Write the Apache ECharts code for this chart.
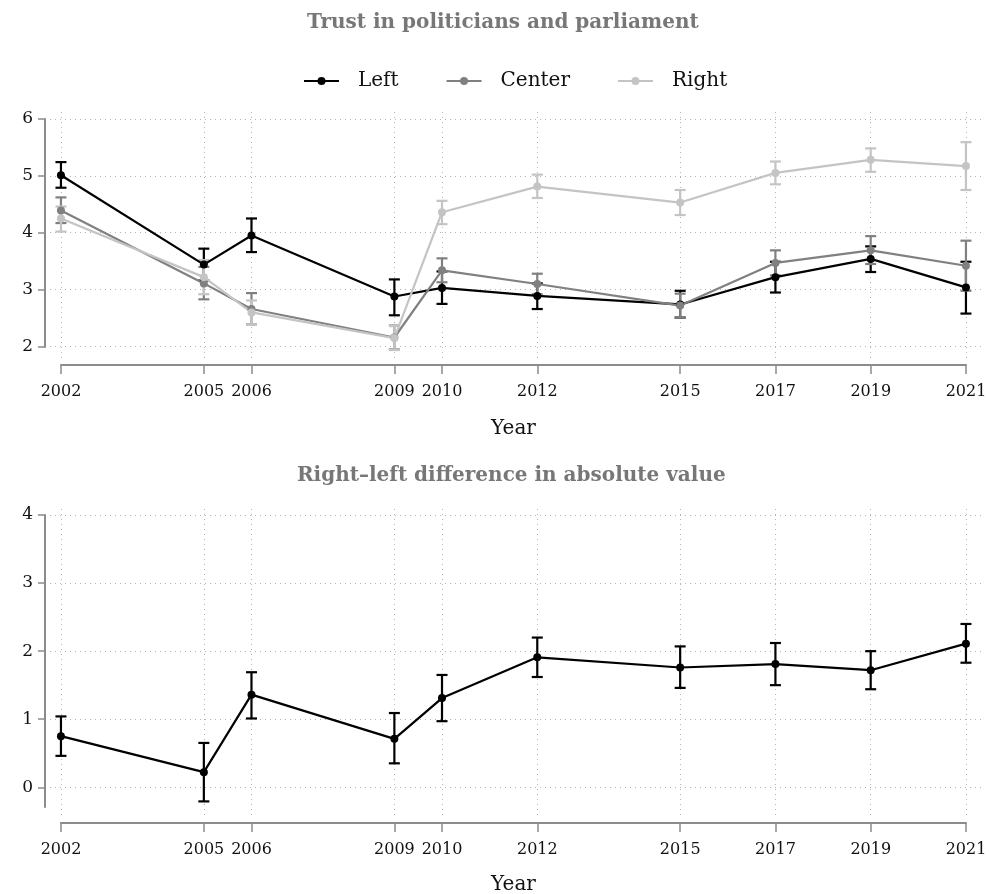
<!DOCTYPE html>
<html>
<head>
<meta charset="utf-8">
<script src="https://cdn.jsdelivr.net/npm/echarts@6/dist/echarts.min.js"></script>
<style>html,body{margin:0;padding:0;background:#fff}#c{width:989px;height:894px}</style>
</head>
<body>
<div id="c"></div>
<script>
const years = [2002, 2005, 2006, 2009, 2010, 2012, 2015, 2017, 2019, 2021];
const yTicksTop = [2, 3, 4, 5, 6];
const yTicksBottom = [0, 1, 2, 3, 4];
const seriesNames = ['Left', 'Center', 'Right'];

const leftMean = [5.01, 3.44, 3.95, 2.88, 3.03, 2.89, 2.74, 3.22, 3.54, 3.04];
const leftLo   = [4.79, 3.16, 3.66, 2.55, 2.75, 2.66, 2.51, 2.95, 3.31, 2.58];
const leftHi   = [5.24, 3.72, 4.25, 3.18, 3.32, 3.11, 2.98, 3.49, 3.76, 3.49];

const centerMean = [4.39, 3.11, 2.66, 2.16, 3.34, 3.10, 2.72, 3.47, 3.69, 3.42];
const centerLo   = [4.17, 2.83, 2.39, 1.95, 3.13, 2.92, 2.51, 3.25, 3.45, 2.98];
const centerHi   = [4.62, 3.40, 2.94, 2.37, 3.55, 3.28, 2.93, 3.69, 3.94, 3.86];

const rightMean = [4.25, 3.22, 2.60, 2.15, 4.36, 4.81, 4.53, 5.05, 5.28, 5.17];
const rightLo   = [4.02, 2.92, 2.39, 1.94, 4.15, 4.61, 4.31, 4.85, 5.07, 4.75];
const rightHi   = [4.46, 3.52, 2.81, 2.36, 4.56, 5.02, 4.75, 5.25, 5.48, 5.59];

const diffMean = [0.75, 0.22, 1.36, 0.71, 1.31, 1.91, 1.76, 1.81, 1.72, 2.11];
const diffLo   = [0.46, -0.21, 1.01, 0.35, 0.97, 1.62, 1.46, 1.50, 1.44, 1.83];
const diffHi   = [1.04, 0.65, 1.69, 1.09, 1.65, 2.20, 2.07, 2.12, 2.00, 2.40];

const FONT = 'DejaVu Serif';
const AXIS_COLOR = '#8c8c8c';
const GRID_COLOR = '#b4b4b4';
const colors = {Left: '#000000', Center: '#808080', Right: '#c4c4c4'};

function pts(ys) { return years.map((x, i) => [x, ys[i]]); }
function errs(lo, hi) { return years.map((x, i) => [x, lo[i], hi[i]]); }

function errRender(color) {
  return function (params, api) {
    const x = api.value(0);
    const a = api.coord([x, api.value(1)]);
    const b = api.coord([x, api.value(2)]);
    const w = 5.5;
    const st = {stroke: color, lineWidth: 2.2};
    return {type: 'group', children: [
      {type: 'line', shape: {x1: a[0], y1: a[1], x2: b[0], y2: b[1]}, style: st},
      {type: 'line', shape: {x1: a[0] - w, y1: a[1], x2: a[0] + w, y2: a[1]}, style: st},
      {type: 'line', shape: {x1: b[0] - w, y1: b[1], x2: b[0] + w, y2: b[1]}, style: st}
    ]};
  };
}

function lineSeries(name, data, xi, yi) {
  return {
    name: name, type: 'line', xAxisIndex: xi, yAxisIndex: yi, data: data,
    symbol: 'circle', symbolSize: 8, showSymbol: true,
    itemStyle: {color: colors[name] || '#000'},
    lineStyle: {color: colors[name] || '#000', width: 2.2},
    z: 3
  };
}
function errSeries(name, data, xi, yi, color) {
  return {
    name: name, type: 'custom', xAxisIndex: xi, yAxisIndex: yi, data: data,
    renderItem: errRender(color), encode: {x: 0, y: [1, 2]}, z: 3
  };
}
function gridSeries(xi, yi, yTicks) {
  return {
    type: 'line', xAxisIndex: xi, yAxisIndex: yi, data: [], z: 1, silent: true,
    markLine: {
      z: 1, silent: true, symbol: 'none', animation: false,
      label: {show: false},
      lineStyle: {type: [1, 4], color: GRID_COLOR, width: 1},
      data: yTicks.map(v => ({yAxis: v})).concat(years.map(v => ({xAxis: v})))
    }
  };
}

const hiddenX = (gi) => ({gridIndex: gi, type: 'value', show: false, min: 0, max: 1});
const hiddenY = (gi) => ({gridIndex: gi, type: 'value', show: false, min: 0, max: 1});
const plotX = (gi) => ({gridIndex: gi, type: 'value', min: 2001.77, max: 2021.4, show: false, splitLine: {show: false}});
const plotY = (gi, mn, mx) => ({gridIndex: gi, type: 'value', min: mn, max: mx, show: false, splitLine: {show: false}});

function visX(gi, gap) {
  return {
    gridIndex: gi, type: 'value', min: 2002, max: 2021, position: 'bottom',
    name: 'Year', nameLocation: 'middle', nameGap: gap,
    nameTextStyle: {fontFamily: FONT, fontSize: 20, color: '#111'},
    axisLine: {show: true, lineStyle: {color: AXIS_COLOR, width: 2}},
    axisTick: {show: true, length: 9, customValues: years, lineStyle: {color: AXIS_COLOR, width: 1.5}},
    axisLabel: {show: true, customValues: years, margin: 19, fontFamily: FONT, fontSize: 16, color: '#111',
                hideOverlap: false, formatter: (v) => String(Math.round(v))},
    splitLine: {show: false}
  };
}
function visY(gi, mn, mx, ticks) {
  return {
    gridIndex: gi, type: 'value', min: mn, max: mx, position: 'left',
    axisLine: {show: true, lineStyle: {color: AXIS_COLOR, width: 2}},
    axisTick: {show: true, length: 7, customValues: ticks, lineStyle: {color: AXIS_COLOR, width: 1.5}},
    axisLabel: {show: true, customValues: ticks, margin: 12, fontFamily: FONT, fontSize: 17, color: '#111'},
    splitLine: {show: false}
  };
}

const chart = echarts.init(document.getElementById('c'), null, {renderer: 'canvas'});
chart.setOption({
  animation: false,
  backgroundColor: '#ffffff',
  title: [
    {text: 'Trust in politicians and parliament', left: 302, top: 8,
     textStyle: {fontFamily: FONT, fontSize: 20, fontWeight: 'bold', color: '#777777'}},
    {text: 'Right\u2013left difference in absolute value', left: 292, top: 461,
     textStyle: {fontFamily: FONT, fontSize: 20, fontWeight: 'bold', color: '#777777'}}
  ],
  legend: {
    data: seriesNames, top: 66, left: 298, itemWidth: 35, itemHeight: 10, itemGap: 47,
    textStyle: {fontFamily: FONT, fontSize: 20, color: '#111', padding: [0, 0, 0, 14]}
  },
  grid: [
    {left: 50, top: 108, width: 935, height: 250, outerBoundsMode: 'none'},
    {left: 45, top: 119, width: 20, height: 228, outerBoundsMode: 'none'},
    {left: 61, top: 300, width: 905, height: 65, outerBoundsMode: 'none'},
    {left: 50, top: 505, width: 935, height: 310, outerBoundsMode: 'none'},
    {left: 45, top: 515, width: 20, height: 292, outerBoundsMode: 'none'},
    {left: 61, top: 760, width: 905, height: 63, outerBoundsMode: 'none'}
  ],
  xAxis: [plotX(0), hiddenX(1), visX(2, 54), plotX(3), hiddenX(4), visX(5, 52)],
  yAxis: [plotY(0, 1.80, 6.19), visY(1, 2, 6, yTicksTop), hiddenY(2),
          plotY(3, -0.41, 4.15), visY(4, -0.29, 4, yTicksBottom), hiddenY(5)],
  series: [
    gridSeries(0, 0, yTicksTop),
    errSeries('Left CI', errs(leftLo, leftHi), 0, 0, colors.Left),
    lineSeries('Left', pts(leftMean), 0, 0),
    errSeries('Center CI', errs(centerLo, centerHi), 0, 0, colors.Center),
    lineSeries('Center', pts(centerMean), 0, 0),
    errSeries('Right CI', errs(rightLo, rightHi), 0, 0, colors.Right),
    lineSeries('Right', pts(rightMean), 0, 0),
    gridSeries(3, 3, yTicksBottom),
    errSeries('Diff CI', errs(diffLo, diffHi), 3, 3, '#000000'),
    lineSeries('Difference', pts(diffMean), 3, 3)
  ]
});
</script>
</body>
</html>
